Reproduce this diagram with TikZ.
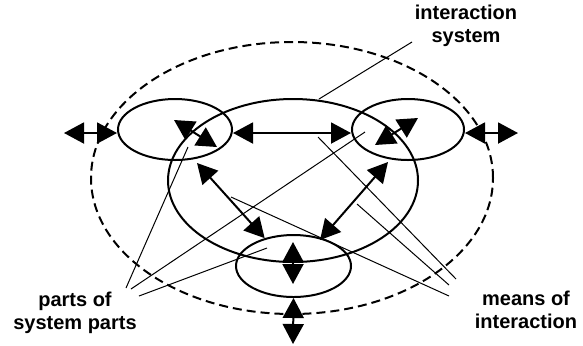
\documentclass[tikz,border=0pt]{standalone}
\usepackage{fontspec}
\setmainfont{Liberation Sans}
\usetikzlibrary{shapes.geometric,% ellipse nodes
arrows.meta}%                     Triangle tips
\tikzset{every node/.style={font=\bfseries\fontsize{10}{11.5}\selectfont}}
\tikzset{part/.style={ellipse,draw,line width=1pt,inner sep=0pt},
  flow/.style={{Triangle[length=10pt,width=10.5pt]}-{Triangle[length=10pt,width=10.5pt]},line width=1pt},
  pointer/.style={line width=0.5pt}}

\begin{document}
\begin{tikzpicture}[x=0.5pt,y=-0.5pt]
  \useasboundingbox (0,0) rectangle (583,345);
  % the system and its parts
  \node[part,dash pattern=on 4.5pt off 2.5pt,minimum width=201pt,minimum height=136pt] (outer) at (292,178) {};
  \node[part,minimum width=125pt,minimum height=81.5pt] (system) at (293,180.5) {};
  \node[part,minimum width=57pt,minimum height=30.5pt] (leftpart) at (175,129.5) {};
  \node[part,minimum width=56pt,minimum height=30.5pt] (rightpart) at (408,129.5) {};
  \node[part,minimum width=57.5pt,minimum height=31pt] (lowpart) at (293.5,266) {};
  % labels
  \node[align=center] (syslabel) at (466,26) {interaction\\system};
  \node[align=center] (partslabel) at (75,313) {parts of\\system parts};
  \node[align=center] (meanslabel) at (526,310) {means of\\interaction};
  % ends of the arrows
  \coordinate (leftout) at (64,133);
  \coordinate (rightout) at (518,133);
  \coordinate (downout) at (293,344);
  \begin{scope}[flow]
    \draw (leftout) -- (leftpart.west |- leftout);
    \draw (rightpart.east |- rightout) -- (rightout);
    \draw (leftpart.east |- leftout) -- (rightpart.west |- rightout);
    \draw (174,120) -- (217,147);
    \draw (375,145) -- (418,118);
    \draw (197,163) -- (lowpart.136);
    \draw (388,162) -- (320,240);
    \draw (293,242) -- (293,284);
    \draw (lowpart.south) -- (downout);
  \end{scope}
  \begin{scope}[pointer]
    \draw (412,42) -- (319,99);
    \draw (126,288) -- (188,147);
    \draw (131,289) -- (365,132);
    \draw (139,296) -- (267,248);
    \draw (456,279) -- (318,137);
    \draw (449,285) -- (357,204);
    \draw (449,296) -- (231,197);
  \end{scope}
\end{tikzpicture}
\end{document}
